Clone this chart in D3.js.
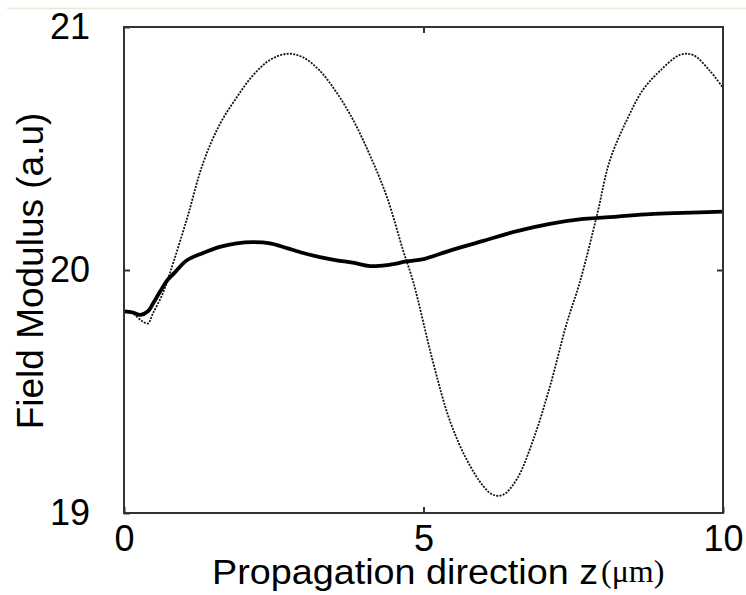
<!DOCTYPE html>
<html>
<head>
<meta charset="utf-8">
<script src="https://cdn.jsdelivr.net/npm/d3@7"></script>
<style>
  html, body { margin: 0; padding: 0; background: #fff; }
  svg { display: block; }
  text { font-family: "Liberation Sans", Arial, sans-serif; fill: #000; }
</style>
</head>
<body>
<svg id="chart" width="746" height="595"></svg>
<script>
// Propagation distance z (µm) and field modulus samples for the two curves
const zThin = [0, 0.15, 0.3, 0.4, 0.48, 0.65, 0.77, 1.05, 1.32, 1.6, 1.88, 2.15, 2.44, 2.74, 2.99, 3.27, 3.55, 3.82, 4.11, 4.39, 4.66, 4.83, 5.16, 5.44, 5.72, 6.0, 6.16, 6.33, 6.56, 6.83, 7.11, 7.39, 7.61, 7.9, 8.11, 8.4, 8.66, 8.95, 9.28, 9.5, 9.78, 10];
const fieldThin = [19.83, 19.82, 19.79, 19.78, 19.82, 19.905, 19.99, 20.21, 20.44, 20.60, 20.71, 20.80, 20.865, 20.89, 20.875, 20.82, 20.73, 20.62, 20.47, 20.30, 20.08, 19.95, 19.62, 19.38, 19.22, 19.11, 19.075, 19.075, 19.14, 19.30, 19.52, 19.78, 19.95, 20.23, 20.45, 20.62, 20.74, 20.82, 20.885, 20.885, 20.82, 20.75];

const zThick = [0, 0.15, 0.27, 0.4, 0.48, 0.6, 0.73, 0.85, 1.05, 1.32, 1.6, 1.88, 2.15, 2.44, 2.72, 2.99, 3.27, 3.55, 3.82, 4.11, 4.39, 4.72, 5.0, 5.44, 6.0, 6.56, 7.11, 7.67, 8.23, 8.78, 9.33, 10];
const fieldThick = [19.83, 19.825, 19.815, 19.83, 19.86, 19.91, 19.96, 19.99, 20.04, 20.07, 20.095, 20.11, 20.115, 20.11, 20.09, 20.07, 20.053, 20.04, 20.03, 20.016, 20.02, 20.035, 20.045, 20.08, 20.12, 20.16, 20.19, 20.21, 20.22, 20.23, 20.235, 20.24];

const xTicks = [0, 5, 10];
const yTicks = [19, 20, 21];
const xLabel = "Propagation direction z";
const xUnit = "(\u03bcm)";
const yLabel = "Field Modulus (a.u)";

const svg = d3.select("#chart");
const plot = { left: 124, top: 27, right: 723, bottom: 513 };

const x = d3.scaleLinear().domain([0, 10]).range([plot.left, plot.right]);
const y = d3.scaleLinear().domain([19, 21]).range([plot.bottom, plot.top]);

// faint rule across the top of the page
svg.append("line")
  .attr("x1", 7).attr("x2", 746).attr("y1", 8.5).attr("y2", 8.5)
  .attr("stroke", "#ebe8d8").attr("stroke-width", 1.5);

// curves
const line = d3.line().x(d => x(d[0])).y(d => y(d[1])).curve(d3.curveCatmullRom.alpha(0.5));

svg.append("path")
  .datum(zThin.map((z, i) => [z, fieldThin[i]]))
  .attr("d", line)
  .attr("fill", "none")
  .attr("stroke", "#111")
  .attr("stroke-width", 1.8)
  .attr("stroke-dasharray", "2,1.3");

svg.append("path")
  .datum(zThick.map((z, i) => [z, fieldThick[i]]))
  .attr("d", line)
  .attr("fill", "none")
  .attr("stroke", "#000")
  .attr("stroke-width", 3.8)
  .attr("stroke-linejoin", "round");

// axes with inward ticks
const bottomAxis = svg.append("g")
  .attr("transform", `translate(0,${plot.bottom})`)
  .call(d3.axisBottom(x).tickValues(xTicks).tickSizeInner(-6).tickSizeOuter(0).tickPadding(12).tickFormat(d3.format("d")));
const leftAxis = svg.append("g")
  .attr("transform", `translate(${plot.left},0)`)
  .call(d3.axisLeft(y).tickValues(yTicks).tickSizeInner(-6).tickSizeOuter(0).tickPadding(34).tickFormat(d3.format("d")));
svg.append("g")
  .attr("transform", `translate(0,${plot.top})`)
  .call(d3.axisTop(x).tickValues([5]).tickSizeInner(-6).tickSizeOuter(0).tickFormat(""));
svg.append("g")
  .attr("transform", `translate(${plot.right},0)`)
  .call(d3.axisRight(y).tickValues([20]).tickSizeInner(-6).tickSizeOuter(0).tickFormat(""));

svg.selectAll(".domain").remove();
svg.selectAll(".tick line").attr("stroke", "#333").attr("stroke-width", 2);
[bottomAxis, leftAxis].forEach(g => g.selectAll("text")
  .attr("font-family", "Liberation Sans, Arial, sans-serif")
  .attr("font-size", 36)
  .attr("fill", "#000"));

// frame
svg.append("rect")
  .attr("x", plot.left).attr("y", plot.top)
  .attr("width", plot.right - plot.left).attr("height", plot.bottom - plot.top)
  .attr("fill", "none").attr("stroke", "#333").attr("stroke-width", 2);

// axis titles
svg.append("text")
  .attr("x", 212).attr("y", 584)
  .attr("font-size", 35)
  .attr("textLength", 386).attr("lengthAdjust", "spacingAndGlyphs")
  .text(xLabel);
svg.append("text")
  .attr("x", 601).attr("y", 582)
  .style("font-family", "'Liberation Serif', 'Times New Roman', serif")
  .attr("font-size", 32)
  .text(xUnit);

svg.append("text")
  .attr("transform", "translate(43,271) rotate(-90)")
  .attr("text-anchor", "middle")
  .attr("font-size", 37)
  .text(yLabel);
</script>
</body>
</html>
